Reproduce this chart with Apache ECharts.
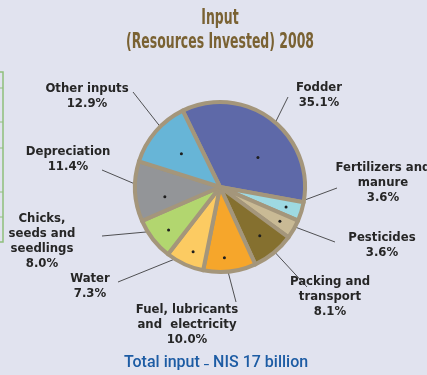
<!DOCTYPE html>
<html>
<head>
<meta charset="utf-8">
<script src="https://cdn.jsdelivr.net/npm/echarts@6/dist/echarts.min.js"></script>
<style>
  html, body { margin: 0; padding: 0; background: #e1e3ef; }
  #chart { width: 427px; height: 375px; }
</style>
</head>
<body>
<div id="chart"></div>
<script>
// Input (resources invested) in agriculture, 2008 — shares of total input
const categories = [
  'Fodder',
  'Fertilizers and\nmanure',
  'Pesticides',
  'Packing and\ntransport',
  'Fuel, lubricants\nand  electricity',
  'Water',
  'Chicks,\nseeds and\nseedlings',
  'Depreciation',
  'Other inputs'
];
const shares = [35.1, 3.6, 3.6, 8.1, 10.0, 7.3, 8.0, 11.4, 12.9];
const sliceColors = ['#5e69a8', '#9ed9e2', '#c9ba95', '#85702f', '#f6a62b', '#fccb62', '#b2d66f', '#939598', '#67b5d7'];

const titleText = 'Input\n(Resources Invested) 2008';
const footText = 'Total input \u02D7 NIS 17 billion';

// Pie geometry and label placement
const CX = 220, CY = 187, R = 85;
const START_DEG = -26; // clockwise from 12 o'clock
const labelAnchor = [[319, 95], [383, 183], [382, 245], [330, 297], [187, 325], [90, 286], [42, 241], [68, 159], [87, 96]];
const lineEnd = [[288, 97], [337, 188], [335, 242], [307, 287], [236, 302], [118, 282], [102, 236], [102, 170], [133, 92]];
const dotRadius = [48, 69, 69, 63, 71, 70, 67, 56, 51];
const dotShift = [15, 0, 0, 0, 3, -2, -2, -7, 0];

const total = shares.reduce((a, b) => a + b, 0);
function midAngle(i) {
  let cum = 0;
  for (let k = 0; k < i; k++) cum += shares[k];
  return START_DEG + 360 * (cum + shares[i] / 2) / total;
}
function dotPoint(i) {
  const a = (midAngle(i) + dotShift[i]) * Math.PI / 180;
  return [CX + dotRadius[i] * Math.sin(a), CY - dotRadius[i] * Math.cos(a)];
}

const pieData = categories.map((name, i) => ({
  name: name,
  value: shares[i],
  itemStyle: { color: sliceColors[i] }
}));

const LABEL_FONT = 'DejaVu Sans Condensed, Liberation Sans Narrow, sans-serif';

// side panel frame with its small row ticks
const frameTicks = [88, 122, 148, 192, 217].map(y => ({
  type: 'line',
  shape: { x1: 0, y1: y, x2: 3, y2: y },
  style: { stroke: '#8fc07c', lineWidth: 1 }
}));

const chart = echarts.init(document.getElementById('chart'), null, { renderer: 'canvas' });
chart.setOption({
  backgroundColor: '#e1e3ef',
  animation: false,
  graphic: [
    {
      // condensed two-line heading
      type: 'text',
      x: 220,
      y: 6,
      scaleX: 0.63,
      style: {
        text: titleText,
        align: 'center',
        verticalAlign: 'top',
        font: 'bold 22px ' + LABEL_FONT,
        lineHeight: 24,
        fill: '#7a6233'
      }
    },
    {
      type: 'text',
      x: 216,
      y: 363,
      style: {
        text: footText,
        align: 'center',
        verticalAlign: 'middle',
        font: '500 16px Roboto, Liberation Sans, sans-serif',
        fill: '#1d5ca4'
      }
    },
    {
      type: 'rect',
      shape: { x: -4, y: 72, width: 7, height: 170 },
      style: { fill: 'none', stroke: '#8fc07c', lineWidth: 1.5 }
    }
  ].concat(frameTicks),
  series: [
    {
      type: 'pie',
      center: [CX, CY],
      radius: [0, R],
      startAngle: 90 - START_DEG,
      clockwise: true,
      data: pieData,
      itemStyle: { borderColor: '#a4967b', borderWidth: 4 },
      label: {
        show: true,
        position: 'outside',
        overflow: 'none',
        formatter: p => p.name + '\n' + p.value.toFixed(1) + '%',
        fontFamily: LABEL_FONT,
        fontWeight: 'bold',
        fontSize: 13,
        lineHeight: 15,
        color: '#262626',
        align: 'center'
      },
      labelLine: {
        show: true,
        length: 10,
        length2: 10,
        lineStyle: { color: '#2a2a2a', width: 0.8 }
      },
      labelLayout: function (params) {
        const i = params.dataIndex;
        return {
          x: labelAnchor[i][0],
          y: labelAnchor[i][1],
          align: 'center',
          verticalAlign: 'middle',
          labelLinePoints: [dotPoint(i), lineEnd[i]]
        };
      }
    },
    {
      // leader-line end dots inside each slice
      type: 'pie',
      silent: true,
      center: [CX, CY],
      radius: [0, R],
      startAngle: 90 - START_DEG,
      clockwise: true,
      data: pieData.map(d => ({ name: d.name, value: d.value })),
      itemStyle: { color: 'rgba(0,0,0,0)', borderWidth: 0 },
      label: {
        show: true,
        position: 'inside',
        formatter: '{d|}',
        rich: {
          d: { width: 3, height: 3, borderRadius: 1.5, backgroundColor: '#1e1e1e' }
        }
      },
      labelLine: { show: false },
      labelLayout: function (params) {
        const p = dotPoint(params.dataIndex);
        return { x: p[0], y: p[1], align: 'center', verticalAlign: 'middle' };
      }
    }
  ]
});
</script>
</body>
</html>
